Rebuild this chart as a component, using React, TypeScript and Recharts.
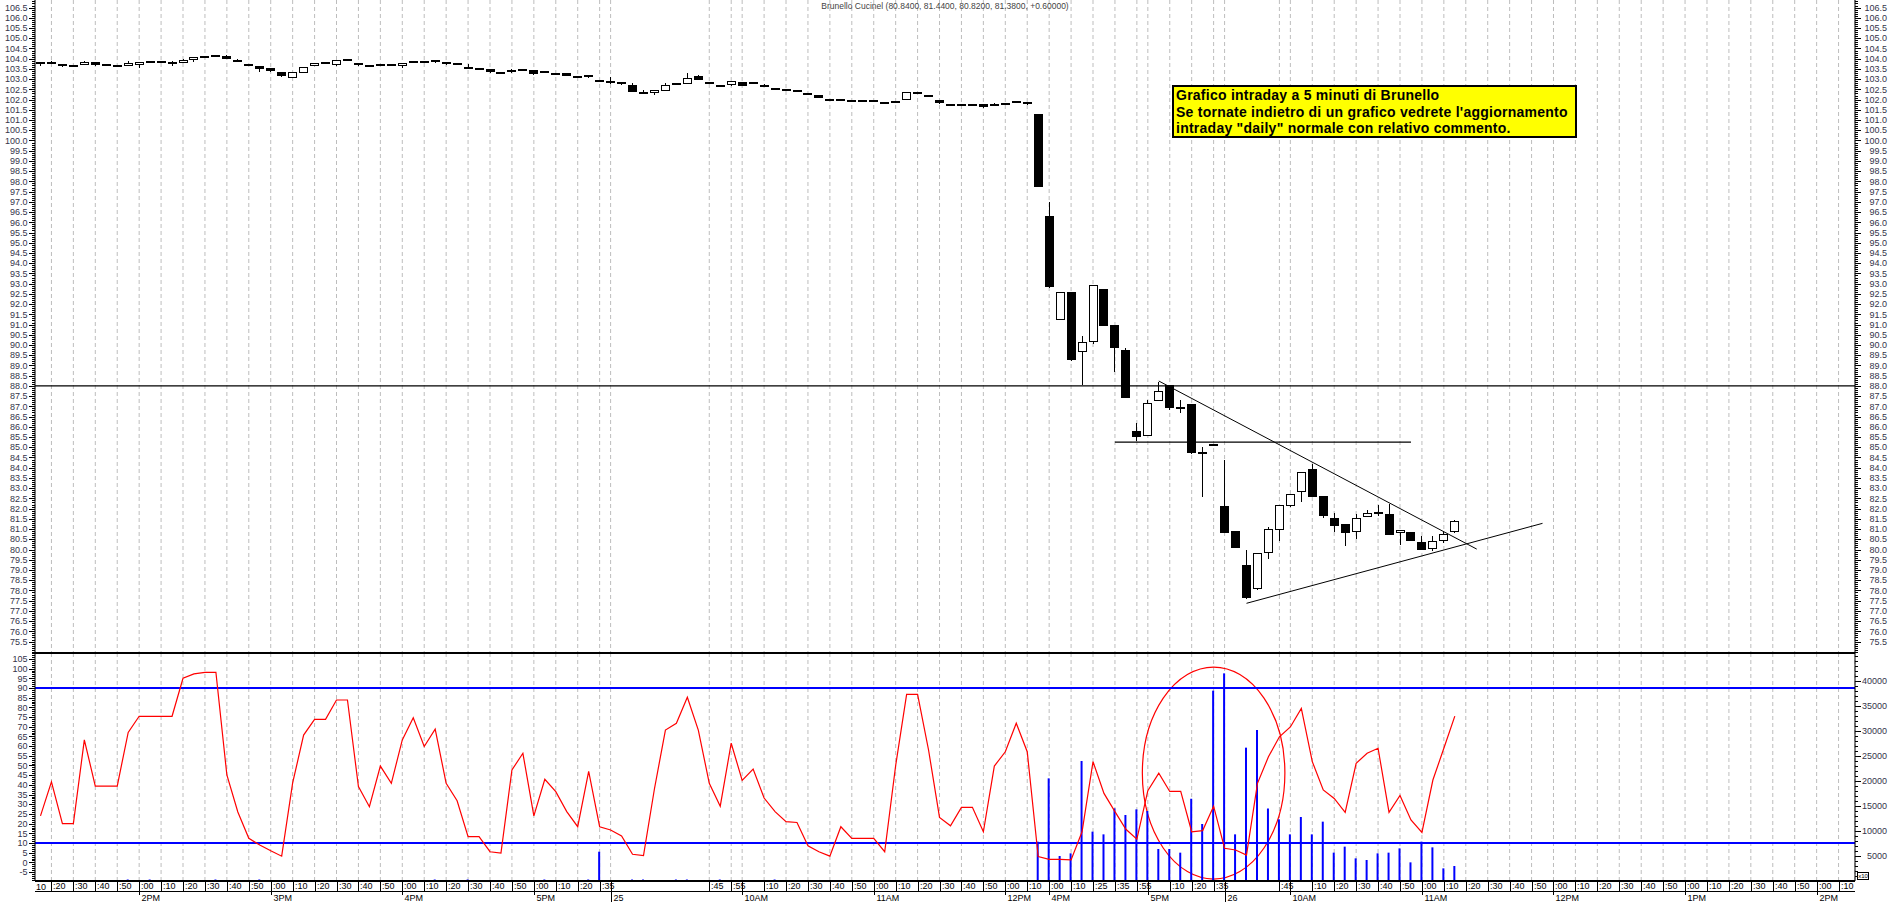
import React from "react";
import { ComposedChart, Bar, Line, XAxis, YAxis, CartesianGrid, ReferenceLine, ReferenceArea } from "recharts";

// 5-minute bars: [open, high, low, close]
const candles: number[][] = [
  [103.83, 103.86, 103.66, 103.72], [103.85, 103.87, 103.76, 103.77], [103.72, 103.73, 103.6, 103.61], [103.62, 103.64, 103.6, 103.62],
  [103.7, 103.9, 103.69, 103.83], [103.83, 103.84, 103.65, 103.66], [103.69, 103.74, 103.67, 103.69], [103.67, 103.68, 103.58, 103.59],
  [103.67, 103.87, 103.64, 103.8], [103.72, 103.86, 103.56, 103.85], [103.83, 103.87, 103.79, 103.83], [103.83, 103.85, 103.81, 103.83],
  [103.72, 103.88, 103.65, 103.83], [103.8, 103.97, 103.78, 103.96], [103.9, 104.07, 103.85, 104.06], [104.13, 104.14, 104.04, 104.05],
  [104.18, 104.19, 104.09, 104.1], [104.15, 104.16, 103.97, 103.98], [103.96, 103.97, 103.84, 103.85], [103.75, 103.76, 103.65, 103.66],
  [103.62, 103.63, 103.36, 103.49], [103.53, 103.54, 103.35, 103.36], [103.33, 103.34, 103.11, 103.12], [103.08, 103.36, 103.05, 103.35],
  [103.33, 103.61, 103.32, 103.6], [103.66, 103.81, 103.65, 103.8], [103.78, 103.8, 103.76, 103.78], [103.66, 103.93, 103.65, 103.92],
  [103.92, 103.98, 103.9, 103.92], [103.72, 103.74, 103.65, 103.72], [103.62, 103.64, 103.6, 103.62], [103.74, 103.75, 103.63, 103.64],
  [103.72, 103.73, 103.63, 103.64], [103.66, 103.8, 103.54, 103.79], [103.88, 103.89, 103.78, 103.79], [103.82, 103.88, 103.77, 103.82],
  [103.87, 103.89, 103.77, 103.87], [103.84, 103.85, 103.71, 103.72], [103.72, 103.74, 103.7, 103.72], [103.56, 103.72, 103.54, 103.56],
  [103.52, 103.54, 103.5, 103.52], [103.48, 103.49, 103.32, 103.33], [103.28, 103.3, 103.25, 103.28], [103.33, 103.5, 103.32, 103.44],
  [103.43, 103.48, 103.38, 103.43], [103.44, 103.45, 103.22, 103.23], [103.36, 103.42, 103.3, 103.36], [103.25, 103.27, 103.23, 103.25],
  [103.28, 103.29, 103.14, 103.15], [103.09, 103.11, 103.07, 103.09], [103.07, 103.19, 103.04, 103.18], [102.9, 102.92, 102.88, 102.9],
  [102.9, 103.1, 102.78, 102.79], [102.87, 102.88, 102.71, 102.79], [102.71, 102.79, 102.35, 102.36], [102.3, 102.46, 102.28, 102.3],
  [102.28, 102.46, 102.23, 102.45], [102.42, 102.82, 102.41, 102.73], [102.76, 102.78, 102.74, 102.76], [102.79, 103.28, 102.78, 103.07],
  [103.17, 103.18, 102.98, 102.99], [102.82, 102.84, 102.8, 102.82], [102.66, 102.72, 102.62, 102.66], [102.69, 102.91, 102.68, 102.9],
  [102.87, 102.88, 102.68, 102.69], [102.79, 102.82, 102.77, 102.79], [102.66, 102.74, 102.6, 102.66], [102.5, 102.59, 102.48, 102.5],
  [102.45, 102.47, 102.43, 102.45], [102.47, 102.48, 102.36, 102.37], [102.3, 102.31, 102.21, 102.22], [102.22, 102.23, 102.08, 102.09],
  [101.98, 102.0, 101.96, 101.98], [102.03, 102.04, 101.95, 101.96], [101.93, 101.98, 101.88, 101.93], [101.94, 101.95, 101.87, 101.88],
  [101.98, 101.99, 101.9, 101.91], [101.86, 101.87, 101.79, 101.8], [101.93, 101.94, 101.85, 101.86], [101.98, 102.36, 101.97, 102.35],
  [102.37, 102.38, 102.29, 102.3], [102.2, 102.22, 102.18, 102.2], [101.98, 101.99, 101.8, 101.81], [101.77, 101.8, 101.71, 101.72],
  [101.73, 101.78, 101.68, 101.73], [101.73, 101.77, 101.68, 101.73], [101.77, 101.78, 101.61, 101.62], [101.76, 101.82, 101.74, 101.76],
  [101.8, 101.84, 101.76, 101.8], [101.93, 101.94, 101.85, 101.86], [101.76, 101.89, 101.75, 101.88], [101.29, 101.3, 97.73, 97.74],
  [96.3, 96.97, 92.81, 92.82], [91.22, 92.58, 91.21, 92.57], [92.57, 92.58, 89.22, 89.23], [89.67, 90.44, 88.05, 90.16],
  [90.16, 92.94, 90.04, 92.93], [92.73, 92.74, 90.93, 90.94], [90.97, 90.98, 88.69, 89.86], [89.75, 89.86, 87.41, 87.42],
  [85.79, 86.2, 85.32, 85.51], [85.56, 87.31, 85.55, 87.15], [87.27, 88.2, 87.26, 87.75], [88.04, 88.05, 86.82, 86.93],
  [86.85, 87.31, 86.66, 86.95], [87.11, 87.12, 84.69, 84.7], [84.75, 84.99, 82.55, 84.72], [85.11, 85.13, 85.09, 85.11],
  [82.12, 84.37, 80.81, 80.82], [80.9, 80.91, 80.07, 80.08], [79.24, 79.97, 77.6, 77.61], [78.05, 79.82, 78.04, 79.81],
  [79.81, 81.11, 79.52, 80.98], [80.94, 82.18, 80.43, 82.17], [82.11, 82.71, 82.1, 82.7], [82.82, 83.81, 82.33, 83.8],
  [83.93, 84.2, 82.57, 82.58], [82.61, 82.62, 81.53, 81.65], [81.55, 81.77, 80.87, 81.16], [81.24, 81.25, 80.17, 80.82],
  [80.82, 81.73, 80.51, 81.52], [81.58, 81.93, 81.57, 81.77], [81.82, 82.17, 81.66, 81.78], [81.76, 82.22, 80.73, 80.74],
  [80.8, 80.94, 80.23, 80.93], [80.85, 80.88, 80.41, 80.42], [80.39, 80.64, 80.0, 80.01], [80.04, 80.66, 79.91, 80.41],
  [80.41, 80.85, 80.31, 80.74], [80.84, 81.44, 80.82, 81.38],
];

const oscillator: number[] = [
  24, 41.6, 20, 20, 63.2, 39.4, 39.4, 39.4, 67.1, 75.4,
  75.4, 75.4, 75.4, 95, 97.3, 98.1, 98.1, 45.1, 26, 12.4,
  9, 6, 3.2, 41, 65.7, 73.8, 73.8, 83.8, 83.8, 39.1,
  28.7, 49.7, 40.8, 63.2, 74.6, 59.8, 68.8, 40.8, 31.8, 13.3,
  13.3, 5.5, 4.8, 47.7, 56.3, 24, 42.9, 36.5, 26.2, 18.4,
  47, 18.4, 16.7, 13.6, 4.2, 3.5, 38, 68.3, 71.8, 85.2,
  68.3, 40.8, 29, 61.5, 42.3, 48.2, 33.2, 26.2, 21, 20.6,
  8.6, 5.5, 3.2, 18.4, 12.4, 12.4, 12.4, 5.5, 50, 86.7,
  86.7, 58, 23.2, 18.9, 28.4, 28.4, 15.8, 49.7, 57.1, 71.8,
  57.1, 3, 1.6, 1.5, 1.3, 15.8, 52, 35.6, 26.2, 17.1,
  12, 37, 46, 36.6, 36.6, 15.8, 16.4, 29, 7.3, 6.4,
  3.8, 40.8, 54.5, 64.8, 69.9, 79.5, 52, 37.4, 33, 25.8,
  51.1, 56.3, 58.9, 25.8, 34.5, 21.9, 15.5, 42.5, 58.9, 75.5,
];

const volume: number[] = [
  0, 0, 0, 0, 0, 0, 0, 0, 300, 0,
  300, 0, 0, 0, 0, 0, 300, 0, 0, 0,
  300, 0, 0, 0, 0, 0, 0, 0, 0, 0,
  0, 0, 0, 0, 0, 0, 300, 0, 0, 300,
  0, 0, 0, 0, 0, 0, 300, 0, 0, 0,
  300, 5860, 0, 0, 300, 300, 0, 0, 300, 300,
  0, 0, 300, 0, 0, 0, 0, 300, 0, 0,
  0, 0, 0, 0, 0, 0, 0, 0, 0, 0,
  0, 0, 0, 0, 0, 0, 0, 0, 0, 0,
  0, 7860, 20530, 5000, 5530, 24000, 9870, 9330, 14530, 13200,
  14330, 14000, 6400, 6400, 5670, 16450, 11400, 38070, 41530, 9330,
  26670, 30200, 14500, 12330, 9330, 12800, 9330, 11870, 5670, 6870,
  4530, 4200, 5530, 5670, 6530, 3730, 7870, 6730, 2530, 3000,
];

const emptySlots = 36;

// time labels on the x axis: [slot, text]
const minuteLabels: [number, string][] = [
  [1, ":20"], [3, ":30"], [5, ":40"], [7, ":50"], [9, ":00"], [11, ":10"], [13, ":20"], [15, ":30"], [17, ":40"], [19, ":50"],
  [21, ":00"], [23, ":10"], [25, ":20"], [27, ":30"], [29, ":40"], [31, ":50"], [33, ":00"], [35, ":10"], [37, ":20"], [39, ":30"],
  [41, ":40"], [43, ":50"], [45, ":00"], [47, ":10"], [49, ":20"], [51, ":35"],
  [61, ":45"], [63, ":55"], [66, ":10"], [68, ":20"], [70, ":30"], [72, ":40"], [74, ":50"], [76, ":00"], [78, ":10"], [80, ":20"],
  [82, ":30"], [84, ":40"], [86, ":50"], [88, ":00"], [90, ":10"], [92, ":00"], [94, ":10"], [96, ":25"], [98, ":35"], [100, ":55"],
  [103, ":10"], [105, ":20"], [107, ":35"], [113, ":45"], [116, ":10"], [118, ":20"], [120, ":30"], [122, ":40"], [124, ":50"],
  [126, ":00"], [128, ":10"], [130, ":20"], [132, ":30"], [134, ":40"], [136, ":50"], [138, ":00"], [140, ":10"], [142, ":20"],
  [144, ":30"], [146, ":40"], [148, ":50"], [150, ":00"], [152, ":10"], [154, ":20"], [156, ":30"], [158, ":40"], [160, ":50"],
  [162, ":00"], [164, ":10"],
];
const hourLabels: [number, string][] = [
  [9, "2PM"], [21, "3PM"], [33, "4PM"], [45, "5PM"], [64, "10AM"], [76, "11AM"], [88, "12PM"], [92, "4PM"],
  [101, "5PM"], [114, "10AM"], [126, "11AM"], [138, "12PM"], [150, "1PM"], [162, "2PM"],
];
const dayLabels: [number, string][] = [[52, "25"], [108, "26"]];

const priceLabels = [
  75.5, 76, 76.5, 77, 77.5, 78, 78.5, 79, 79.5, 80, 80.5, 81, 81.5, 82, 82.5, 83, 83.5, 84, 84.5, 85, 85.5,
  86, 86.5, 87, 87.5, 88, 88.5, 89, 89.5, 90, 90.5, 91, 91.5, 92, 92.5, 93, 93.5, 94, 94.5, 95, 95.5, 96,
  96.5, 97, 97.5, 98, 98.5, 99, 99.5, 100, 100.5, 101, 101.5, 102, 102.5, 103, 103.5, 104, 104.5, 105,
  105.5, 106, 106.5,
];
const oscLabels = [-5, 0, 5, 10, 15, 20, 25, 30, 35, 40, 45, 50, 55, 60, 65, 70, 75, 80, 85, 90, 95, 100, 105];
const volLabels = [5000, 10000, 15000, 20000, 25000, 30000, 35000, 40000];

// drawn annotations
const resistance = 88;
const neckline = { from: 98, to: 125, y: 85.25 };
const trendLines = [
  { x1: 102, y1: 88.24, x2: 131, y2: 80.02 },
  { x1: 110, y1: 77.37, x2: 137, y2: 81.28 },
];
const oscLevels = [90, 10];
const highlight = { x1: 101, x2: 113, y1: -8.6, y2: 100.8 };

const PRICE_DOMAIN: [number, number] = [74.94, 106.87];
const OSC_DOMAIN: [number, number] = [-9.61, 108.06];
const VOL_DOMAIN: [number, number] = [0, 45600];

const FONT = "'Liberation Sans', Arial, sans-serif";
const W = 1890;
const AXIS_W = 35;

const steps = (a: number, b: number, s: number) => {
  const out: number[] = [];
  for (let k = Math.round(a / s); k * s <= b + 1e-9; k++) out.push(+(k * s).toFixed(4));
  return out;
};
const priceTicks = steps(75, 106.8, 0.1);
const oscTicks = steps(-9, 108, 1);
const volTicks = steps(1000, 45000, 1000);

const rows = Array.from({ length: candles.length + emptySlots }, (_, i) => {
  const k = candles[i];
  if (!k) return { i };
  return {
    i,
    o: k[0],
    h: k[1],
    l: k[2],
    c: k[3],
    hl: [k[2], k[1]],
    osc: oscillator[i],
    vol: volume[i] > 0 ? volume[i] : null,
  };
});

const minuteMap = new Map(minuteLabels);
const hourMap = new Map(hourLabels);
const dayMap = new Map(dayLabels);
const axisTicks = Array.from(new Set([...minuteLabels, ...hourLabels, ...dayLabels].map((d) => d[0]))).sort((a, b) => a - b);

function makeYTick(side: "left" | "right", labels: number[], fmt: (v: number) => string) {
  const majors = new Set(labels.map((v) => v.toFixed(3)));
  return (props: any) => {
    const { x, y, payload } = props;
    const v = payload.value as number;
    const major = majors.has(v.toFixed(3));
    const d = side === "left" ? -1 : 1;
    const yy = Math.round(y) + 0.5;
    return (
      <g>
        <line x1={x} x2={x + d * (major ? 6 : 3)} y1={yy} y2={yy} stroke="#000" shapeRendering="crispEdges" />
        {major && (
          <text
            x={side === "left" ? x - 7.5 : x + 32}
            y={y}
            dy={3.2}
            textAnchor="end"
            fontSize={9}
            fontFamily={FONT}
            fill="#34344a"
          >
            {fmt(v)}
          </text>
        )}
      </g>
    );
  };
}

const XTick = (props: any) => {
  const { x, y, payload } = props;
  const i = payload.value as number;
  const xx = Math.round(x) + 0.5;
  const minute = minuteMap.get(i);
  const hour = hourMap.get(i);
  const day = dayMap.get(i);
  return (
    <g fontFamily={FONT} fontSize={9} fill="#000" shapeRendering="crispEdges">
      {minute && (
        <>
          <line x1={xx} x2={xx} y1={y} y2={y + 10} stroke="#000" />
          <text x={xx + 1.5} y={y + 8.3}>{minute}</text>
        </>
      )}
      {hour && (
        <>
          <line x1={xx} x2={xx} y1={y} y2={y + 14} stroke="#000" />
          <text x={xx + 2} y={y + 19.5}>{hour}</text>
        </>
      )}
      {day && (
        <>
          <line x1={xx} x2={xx} y1={y} y2={y + 22} stroke="#000" />
          <text x={xx + 2} y={y + 19.5}>{day}</text>
        </>
      )}
    </g>
  );
};

const Candle = (props: any) => {
  const { x, y, width, height, payload } = props;
  if (!payload || payload.h == null) return <g />;
  const top = Math.min(y, y + height);
  const span = Math.abs(height);
  const k = span / (payload.h - payload.l);
  const py = (p: number) => top + (payload.h - p) * k;
  const left = Math.round(x + width / 2 - 4.5);
  const cx = left + 4.5;
  const yo = py(payload.o);
  const yc = py(payload.c);
  const bt = Math.min(yo, yc);
  const bb = Math.max(yo, yc);
  const up = payload.c > payload.o;
  return (
    <g shapeRendering="crispEdges">
      <line x1={cx} x2={cx} y1={top} y2={top + span} stroke="#000" />
      {bb - bt < 2.2 ? (
        <rect x={left} y={Math.round((bt + bb) / 2 - 1)} width={9} height={2} fill="#000" />
      ) : up ? (
        <rect x={left + 0.5} y={Math.round(bt) + 0.5} width={8} height={Math.round(bb - bt) - 1} fill="#fff" stroke="#000" />
      ) : (
        <rect x={left} y={Math.round(bt)} width={9} height={Math.round(bb - bt)} fill="#000" />
      )}
    </g>
  );
};

const Ellipse = (props: any) => {
  const { x, y, width, height } = props;
  return (
    <ellipse
      cx={x + width / 2}
      cy={y + height / 2}
      rx={Math.abs(width) / 2}
      ry={Math.abs(height) / 2}
      fill="none"
      stroke="#ff0000"
      strokeWidth={1.2}
    />
  );
};

const gridProps = { stroke: "#bdbdbd", strokeDasharray: "4 3", horizontal: false };

export default function App() {
  return (
    <div style={{ position: "absolute", left: 0, top: 0, width: W, height: 902, background: "#fff", overflow: "hidden" }}>
      <div style={{ position: "absolute", left: 0, top: 0 }}>
        <ComposedChart width={W} height={653} data={rows} margin={{ top: 0, right: 0, bottom: 0, left: 0 }}>
          <CartesianGrid {...gridProps} yAxisId="p" />
          <XAxis dataKey="i" type="category" hide ticks={axisTicks} interval={0} />
          <YAxis
            yAxisId="p"
            orientation="left"
            width={AXIS_W}
            domain={PRICE_DOMAIN}
            allowDataOverflow
            type="number"
            ticks={priceTicks}
            interval={0}
            tickSize={0}
            tickMargin={0}
            tickLine={false}
            axisLine={{ stroke: "#000" }}
            tick={makeYTick("left", priceLabels, (v) => v.toFixed(1))}
          />
          <YAxis
            yAxisId="p2"
            orientation="right"
            width={AXIS_W}
            domain={PRICE_DOMAIN}
            allowDataOverflow
            type="number"
            ticks={priceTicks}
            interval={0}
            tickSize={0}
            tickMargin={0}
            tickLine={false}
            axisLine={{ stroke: "#000" }}
            tick={makeYTick("right", priceLabels, (v) => v.toFixed(1))}
          />
          <ReferenceLine yAxisId="p" y={resistance} stroke="#000" strokeWidth={1.3} />
          <ReferenceLine
            yAxisId="p"
            segment={[{ x: neckline.from, y: neckline.y }, { x: neckline.to, y: neckline.y }]}
            stroke="#000"
            strokeWidth={1.2}
          />
          {trendLines.map((t, k) => (
            <ReferenceLine
              key={k}
              yAxisId="p"
              segment={[{ x: t.x1, y: t.y1 }, { x: t.x2, y: t.y2 }]}
              stroke="#000"
              strokeWidth={1}
            />
          ))}
          <Bar yAxisId="p" dataKey="hl" barSize={9} shape={Candle} isAnimationActive={false} />
        </ComposedChart>
      </div>

      <div style={{ position: "absolute", left: 0, top: 651 }}>
        <ComposedChart width={W} height={251} data={rows} margin={{ top: 2, right: 0, bottom: 0, left: 0 }}>
          <CartesianGrid {...gridProps} yAxisId="o" />
          <XAxis
            dataKey="i"
            type="category"
            height={21}
            ticks={axisTicks}
            interval={0}
            tickSize={0}
            tickMargin={0}
            tickLine={false}
            axisLine={{ stroke: "#000", strokeWidth: 2 }}
            tick={XTick}
          />
          <YAxis
            yAxisId="o"
            orientation="left"
            width={AXIS_W}
            domain={OSC_DOMAIN}
            allowDataOverflow
            type="number"
            ticks={oscTicks}
            interval={0}
            tickSize={0}
            tickMargin={0}
            tickLine={false}
            axisLine={{ stroke: "#000" }}
            tick={makeYTick("left", oscLabels, (v) => String(v))}
          />
          <YAxis
            yAxisId="v"
            orientation="right"
            width={AXIS_W}
            domain={VOL_DOMAIN}
            allowDataOverflow
            type="number"
            ticks={volTicks}
            interval={0}
            tickSize={0}
            tickMargin={0}
            tickLine={false}
            axisLine={{ stroke: "#000" }}
            tick={makeYTick("right", volLabels, (v) => String(v))}
          />
          <ReferenceLine yAxisId="o" y={OSC_DOMAIN[1]} stroke="#000" strokeWidth={2} />
          <Bar yAxisId="v" dataKey="vol" barSize={2} fill="#0000ff" isAnimationActive={false} />
          {oscLevels.map((lv) => (
            <ReferenceLine key={lv} yAxisId="o" y={lv} stroke="#0000ff" strokeWidth={2} />
          ))}
          <Line
            yAxisId="o"
            dataKey="osc"
            type="linear"
            stroke="#ff0000"
            strokeWidth={1.2}
            dot={false}
            isAnimationActive={false}
          />
          <ReferenceArea
            yAxisId="o"
            x1={highlight.x1}
            x2={highlight.x2}
            y1={highlight.y1}
            y2={highlight.y2}
            shape={Ellipse}
          />
        </ComposedChart>
      </div>

      <div
        style={{
          position: "absolute",
          left: AXIS_W,
          top: 1,
          width: W - 2 * AXIS_W,
          textAlign: "center",
          fontFamily: FONT,
          fontSize: 8.5,
          color: "#444",
        }}
      >
        Brunello Cucinel (80.8400, 81.4400, 80.8200, 81.3800, +0.60000)
      </div>

      <div
        style={{
          position: "absolute",
          left: 1172,
          top: 85,
          width: 405,
          height: 53,
          boxSizing: "border-box",
          border: "2px solid #000",
          background: "#ffff00",
          fontFamily: FONT,
          fontWeight: "bold",
          fontSize: 14,
          letterSpacing: "0.25px",
          lineHeight: "16.5px",
          padding: "0 0 0 2px",
          whiteSpace: "nowrap",
          color: "#000",
        }}
      >
        Grafico intraday a 5 minuti di Brunello
        <br />
        Se tornate indietro di un grafico vedrete l'aggiornamento
        <br />
        intraday "daily" normale con relativo commento.
      </div>

      <div style={{ position: "absolute", left: AXIS_W, top: 891, width: W - 2 * AXIS_W, height: 1, background: "#000" }} />
      <div style={{ position: "absolute", left: 36, top: 882, fontFamily: FONT, fontSize: 9, color: "#000" }}>10</div>
      <div
        style={{
          position: "absolute",
          left: 1857,
          top: 872,
          width: 12,
          height: 8,
          boxSizing: "border-box",
          border: "1px solid #000",
          fontFamily: FONT,
          fontSize: 6,
          lineHeight: "6px",
          textAlign: "center",
        }}
      >
        x10
      </div>
    </div>
  );
}
